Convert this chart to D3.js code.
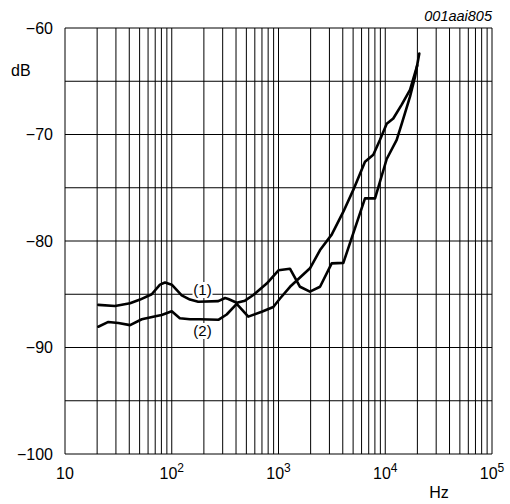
<!DOCTYPE html>
<html>
<head>
<meta charset="utf-8">
<script src="https://cdn.jsdelivr.net/npm/d3@7"></script>
<style>
  html, body { margin: 0; padding: 0; background: #fff; }
  svg { display: block; }
  text { font-family: "Liberation Sans", Arial, Helvetica, sans-serif; fill: #000; }
</style>
</head>
<body>
<svg id="chart" width="510" height="504"></svg>
<script>
// ---- data ----
const curve1Freq = [20.5, 29.4, 40.7, 50.5, 64.9, 77.6, 86.5, 100, 124, 148, 177, 273, 316, 339, 406, 485, 581, 775, 1000, 1280, 1590, 1970, 2450, 3150, 4050, 6460, 8020, 10320, 12800, 14260, 17060, 19000, 20850];
const curve1dB   = [-86.0, -86.1, -85.85, -85.5, -85.0, -84.1, -83.9, -84.1, -85.1, -85.5, -85.7, -85.65, -85.35, -85.45, -85.8, -85.6, -85.07, -84.0, -82.75, -82.6, -84.3, -84.75, -84.3, -82.1, -82.05, -76.0, -76.0, -72.3, -70.5, -69.0, -66.45, -64.6, -62.4];
const curve2Freq = [20.5, 25.5, 31.6, 40.7, 52.4, 72.3, 80.5, 100, 119, 148, 184, 273, 327, 406, 521, 697, 894, 1033, 1282, 1972, 2450, 3150, 4050, 5020, 6460, 7730, 8930, 10320, 11890, 14260, 17060, 19950];
const curve2dB   = [-88.05, -87.6, -87.7, -87.9, -87.35, -87.05, -86.95, -86.6, -87.25, -87.35, -87.35, -87.4, -86.9, -85.9, -87.1, -86.64, -86.2, -85.4, -84.3, -82.56, -80.85, -79.4, -77.25, -75.2, -72.55, -71.9, -70.5, -69.0, -68.5, -67.2, -65.8, -63.5];
const yTicks = [-60, -70, -80, -90, -100];
const yGrid = [-60, -65, -70, -75, -80, -85, -90, -95, -100];
const xDecadeTicks = [10, 100, 1000, 10000, 100000];
const xDecadeExp = [1, 2, 3, 4, 5];
const curveLabels = ["(1)", "(2)"];
const chartCode = "001aai805";
const yUnit = "dB";
const xUnit = "Hz";

// ---- layout ----
const svg = d3.select("#chart");
const L = 65, R = 492, T = 28, B = 454;
const x = d3.scaleLog().domain([10, 100000]).range([L, R]);
const y = d3.scaleLinear().domain([-100, -60]).range([B, T]);

// minor + major vertical grid
const vGrid = [];
for (let d = 10; d < 100000; d *= 10) for (let m = 1; m <= 10; m++) vGrid.push(d * m);
const grid = svg.append("g");
grid.selectAll("line.v").data(Array.from(new Set(vGrid))).join("line")
  .attr("x1", d => x(d)).attr("x2", d => x(d))
  .attr("y1", T).attr("y2", B)
  .attr("stroke", "#000").attr("stroke-width", 1);
grid.selectAll("line.h").data(yGrid).join("line")
  .attr("x1", L).attr("x2", R)
  .attr("y1", d => y(d)).attr("y2", d => y(d))
  .attr("stroke", "#000").attr("stroke-width", 1);

// y tick labels
svg.append("g").selectAll("text").data(yTicks).join("text")
  .attr("x", 53).attr("y", d => y(d)).attr("dy", "0.36em")
  .attr("text-anchor", "end").attr("font-size", 16)
  .text(d => "\u2212" + Math.abs(d));

// x tick labels
const xl = svg.append("g").selectAll("text").data(xDecadeTicks).join("text")
  .attr("x", d => x(d)).attr("y", 479)
  .attr("text-anchor", "middle").attr("font-size", 16);
xl.each(function(d, i) {
  const t = d3.select(this);
  t.append("tspan").text("10");
  if (xDecadeExp[i] > 1) {
    t.append("tspan").attr("dy", -7).attr("font-size", 12).text(xDecadeExp[i]);
  }
});

// units
svg.append("text").attr("x", 11).attr("y", 76).attr("font-size", 16).text(yUnit);
svg.append("text").attr("x", 439).attr("y", 498).attr("text-anchor", "middle").attr("font-size", 16).text(xUnit);
svg.append("text").attr("x", 492).attr("y", 21).attr("text-anchor", "end")
  .attr("font-size", 14.5).attr("font-style", "italic").text(chartCode);

// curves
const line = d3.line().x(d => x(d[0])).y(d => y(d[1]));
const c1 = curve1Freq.map((f, i) => [f, curve1dB[i]]);
const c2 = curve2Freq.map((f, i) => [f, curve2dB[i]]);
svg.append("g").selectAll("path").data([c1, c2]).join("path")
  .attr("d", line).attr("fill", "none").attr("stroke", "#000")
  .attr("stroke-width", 2.6).attr("stroke-linejoin", "round").attr("stroke-linecap", "round");

// curve labels with white background
const lbl = svg.append("g");
[[202.5, 290, curveLabels[0]], [202.5, 331, curveLabels[1]]].forEach(([cx, cy, s]) => {
  lbl.append("rect").attr("x", cx - 10).attr("y", cy - 8).attr("width", 20).attr("height", 16).attr("fill", "#fff");
  lbl.append("text").attr("x", cx).attr("y", cy).attr("dy", "0.36em")
    .attr("text-anchor", "middle").attr("font-size", 15).text(s);
});
</script>
</body>
</html>
